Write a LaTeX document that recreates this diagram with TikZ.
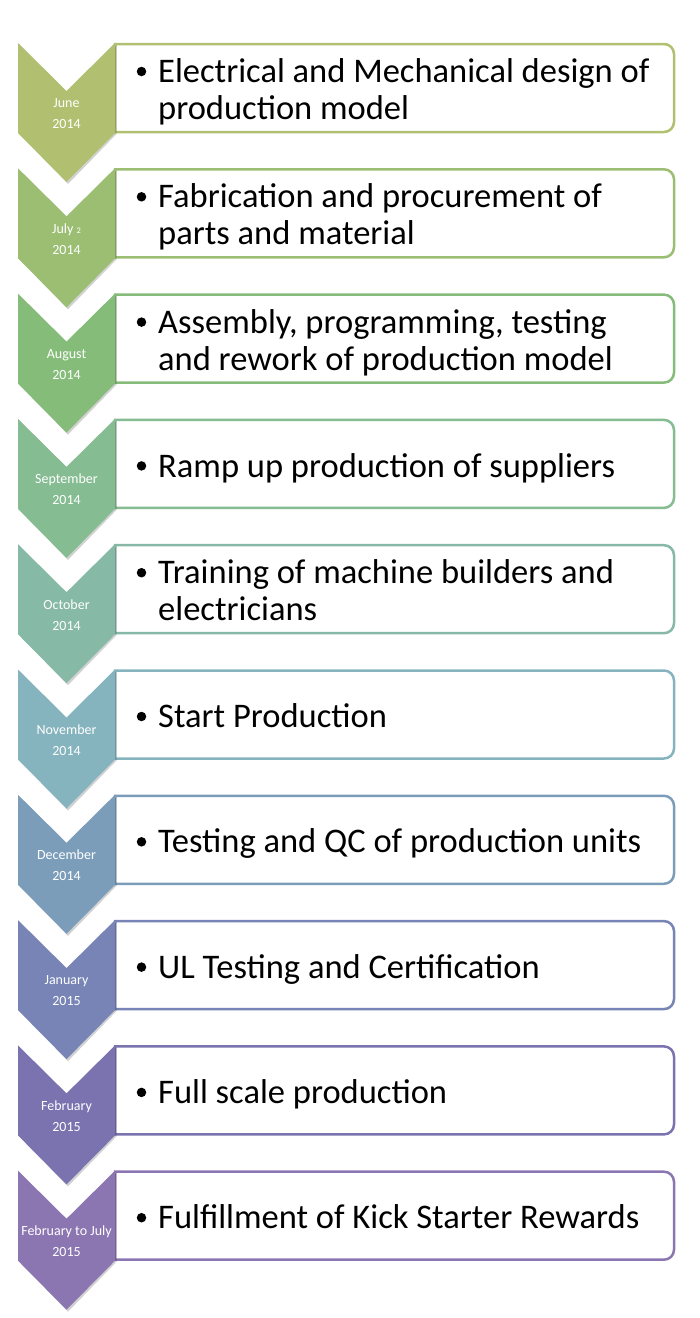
\documentclass[tikz,border=0pt]{standalone}
\usepackage{fontspec}
\setmainfont{Carlito}
\definecolor{c1}{RGB}{176,192,112}
\definecolor{c2}{RGB}{155,190,115}
\definecolor{c3}{RGB}{134,188,122}
\definecolor{c4}{RGB}{133,188,146}
\definecolor{c5}{RGB}{134,185,166}
\definecolor{c6}{RGB}{134,180,190}
\definecolor{c7}{RGB}{124,157,186}
\definecolor{c8}{RGB}{119,132,181}
\definecolor{c9}{RGB}{122,115,176}
\definecolor{c10}{RGB}{140,118,178}
\tikzset{
  tlbox/.style={line width=2.5pt, fill=white},
  tllab/.style={text=white, align=center, inner sep=0pt, font=\fontsize{14}{21}\selectfont},
  tltxt/.style={anchor=west, align=left, inner sep=0pt, font=\fontsize{34.5}{37}\selectfont},
  tlbul/.style={circle, fill=black, inner sep=0pt, minimum size=9.5pt},
}
\begin{document}
\begin{tikzpicture}[x=1pt,y=-1pt]
\useasboundingbox (0,0) rectangle (700,1318);
\foreach \i/\n/\lab/\txt in {
 1/2/{June\\2014}/{Electrical and Mechanical design of\\production model},
 2/2/{July {\fontsize{8.5}{9}\selectfont 2}\\2014}/{Fabrication and procurement of\\parts and material},
 3/2/{August\\2014}/{Assembly, programming, testing\\and rework of production model},
 4/1/{September\\2014}/{Ramp up production of suppliers},
 5/2/{October\\2014}/{Training of machine builders and\\electricians},
 6/1/{November\\2014}/{Start Production},
 7/1/{December\\2014}/{Testing and QC of production units},
 8/1/{January\\2015}/{UL Testing and Certification},
 9/1/{February\\2015}/{Full scale production},
 10/1/{February to July\\2015}/{Fulfillment of Kick Starter Rewards}}{
  \pgfmathsetmacro\T{43+125.3*(\i-1)}
  \pgfmathsetmacro\B{\T+47-18.5*(\n-1)}
  \draw[tlbox, draw=c\i] (115,\T+1) [rounded corners=10pt] -- (674,\T+1) -- (674,\T+89) [sharp corners] -- (115,\T+89) -- cycle;
  \fill[black, opacity=0.18] (19.5,\T+2) -- (68,\T+50) -- (116.5,\T+2) -- (116.5,\T+91) -- (68,\T+141) -- (19.5,\T+91) -- cycle;
  \fill[c\i] (18,\T) -- (66.5,\T+48) -- (115,\T) -- (115,\T+90) -- (66.5,\T+139) -- (18,\T+90) -- cycle;
  \node[tllab] (lab\i) at (66.5,\T+70.5) {\lab};
  \node[tlbul] (bul\i) at (141.5,\B) {};
  \node[tltxt] (txt\i) at (158,\T+50.7) {\strut\txt\strut};
}
\end{tikzpicture}
\end{document}
